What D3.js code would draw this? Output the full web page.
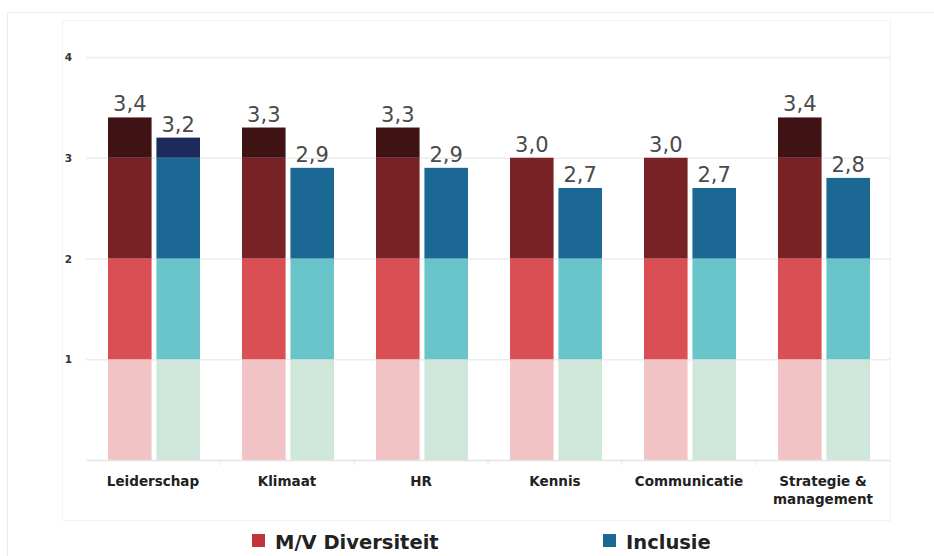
<!DOCTYPE html>
<html>
<head>
<meta charset="utf-8">
<script src="https://cdn.jsdelivr.net/npm/d3@7/dist/d3.min.js"></script>
<style>
  html, body { margin: 0; padding: 0; background: #fff; }
  svg { display: block; }
</style>
</head>
<body>
<svg id="chart" width="934" height="556"></svg>
<script>
// Scores per theme, shown as stacked level bands (0-1, 1-2, 2-3, 3-4)
const categories = ["Leiderschap", "Klimaat", "HR", "Kennis", "Communicatie", "Strategie & management"];
const diversiteit = [3.4, 3.3, 3.3, 3.0, 3.0, 3.4];
const inclusie = [3.2, 2.9, 2.9, 2.7, 2.7, 2.8];
const yTicks = [1, 2, 3, 4];
const bandLevels = [0, 1, 2, 3];
const seriesNames = ["M/V Diversiteit", "Inclusie"];

const redShades = ["#f2c3c4", "#d94f53", "#782226", "#3f1214"];
const blueShades = ["#cfe6da", "#6ac5cb", "#1a6893", "#1c2b5b"];
const legendColors = ["#c0343a", "#1a6893"];

const svg = d3.select("#chart");
const font = "'DejaVu Sans', sans-serif";

// card frame and inner panel
svg.append("rect").attr("x", 7.5).attr("y", 12.5).attr("width", 940).attr("height", 560)
  .attr("fill", "#fff").attr("stroke", "#ececec");
svg.append("rect").attr("x", 62.5).attr("y", 20.5).attr("width", 828).attr("height", 500)
  .attr("fill", "#fff").attr("stroke", "#f3f3f3");

const x0 = d3.scaleBand().domain(categories).range([86, 890]).paddingInner(0).paddingOuter(0);
const x1 = d3.scaleBand().domain([0, 1]).range([-45, 47]).paddingInner(0.1);
const y = d3.scaleLinear().domain([0, 4]).range([460, 57]);

// gridlines
svg.append("g").selectAll("line").data(yTicks).join("line")
  .attr("x1", 86).attr("x2", 890)
  .attr("y1", d => y(d) + 0.5).attr("y2", d => y(d) + 0.5)
  .attr("stroke", "#ececec").attr("stroke-width", 1.5);

// y labels
svg.append("g").selectAll("text").data(yTicks).join("text")
  .attr("x", 72).attr("y", d => y(d) + 4)
  .attr("text-anchor", "end")
  .attr("font-family", font).attr("font-weight", "bold").attr("font-size", 10.5)
  .attr("fill", "#333").text(d => d);

// bars: each value split into its level bands
const groups = svg.append("g").selectAll("g").data(categories).join("g")
  .attr("transform", d => `translate(${x0(d) + x0.bandwidth() / 2},0)`);

[diversiteit, inclusie].forEach((vals, s) => {
  const shades = s === 0 ? redShades : blueShades;
  groups.each(function (cat, i) {
    const v = vals[i];
    const g = d3.select(this);
    bandLevels.forEach(lo => {
      if (v <= lo) return;
      const hi = Math.min(v, lo + 1);
      g.append("rect")
        .attr("x", x1(s)).attr("width", x1.bandwidth())
        .attr("y", y(hi)).attr("height", y(lo) - y(hi))
        .attr("fill", shades[lo]);
    });
    g.append("text")
      .attr("x", x1(s) + x1.bandwidth() / 2)
      .attr("y", y(v) - 6)
      .attr("text-anchor", "middle")
      .attr("font-family", font).attr("font-size", 21)
      .attr("fill", "#4a4a4a")
      .text(d3.format(".1f")(v).replace(".", ","));
  });
});

// x axis
const xAxis = d3.axisBottom(x0).tickSize(0).tickFormat("");
svg.append("g").attr("transform", "translate(0,460)").call(xAxis)
  .call(g => g.select(".domain").attr("stroke", "#e4e4e4").attr("stroke-width", 1.5));
svg.append("g").selectAll("line").data(categories.slice(1)).join("line")
  .attr("x1", d => x0(d)).attr("x2", d => x0(d))
  .attr("y1", 460).attr("y2", 465).attr("stroke", "#e4e4e4");

svg.append("g").selectAll("text").data(categories).join("text")
  .attr("x", d => x0(d) + x0.bandwidth() / 2)
  .attr("y", 486)
  .attr("text-anchor", "middle")
  .attr("font-family", font).attr("font-weight", "bold").attr("font-size", 13.5)
  .attr("fill", "#222")
  .each(function (d) {
    const words = d === "Strategie & management" ? ["Strategie &", "management"] : [d];
    d3.select(this).selectAll("tspan").data(words).join("tspan")
      .attr("x", x0(d) + x0.bandwidth() / 2)
      .attr("dy", (w, k) => k === 0 ? 0 : 18)
      .text(w => w);
  });

// legend
const legendX = [252, 603];
const legend = svg.append("g").selectAll("g").data(seriesNames).join("g")
  .attr("transform", (d, i) => `translate(${legendX[i]},534)`);
legend.append("rect").attr("width", 13).attr("height", 13).attr("fill", (d, i) => legendColors[i]);
legend.append("text").attr("x", 23).attr("y", 15)
  .attr("font-family", font).attr("font-weight", 600).attr("font-size", 19.5)
  .attr("fill", "#222").text(d => d);
</script>
</body>
</html>
